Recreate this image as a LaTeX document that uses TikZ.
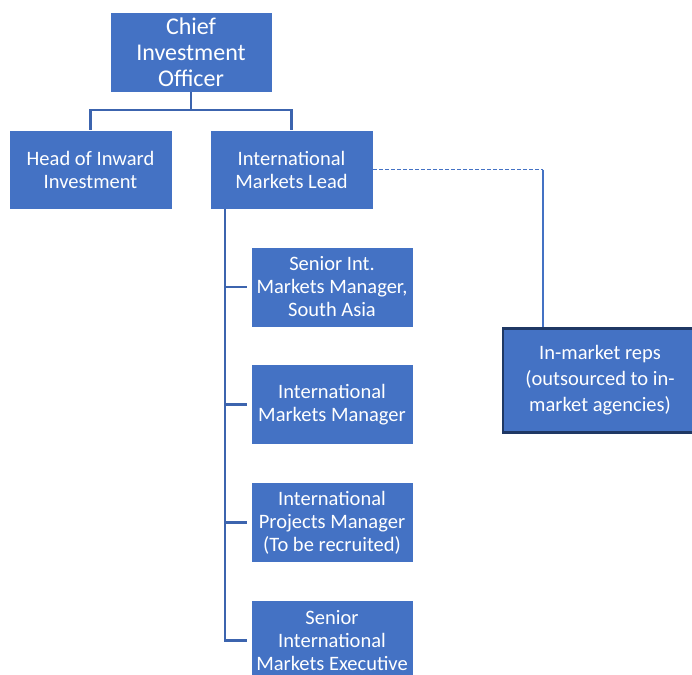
\documentclass[tikz,border=0pt]{standalone}
\usepackage{fontspec}
\setmainfont{Carlito}
\usepackage{tikz}
\usetikzlibrary{calc}
\usepackage{xcolor}
\definecolor{boxblue}{HTML}{4472C4}
\definecolor{linkblue}{HTML}{3C64AE}
\definecolor{navy}{HTML}{1F3864}

\begin{document}
\begin{tikzpicture}[x=1pt,y=-1pt,
    rolebox/.style={fill=boxblue,draw=white,line width=0.6pt,text=white,align=center,
      minimum width=163pt,minimum height=79pt,inner sep=2pt,
      font=\fontsize{20.5}{23}\selectfont},
    link/.style={draw=linkblue,line width=2.6pt},
    dotlink/.style={draw=boxblue,line width=1.1pt,dash pattern=on 4pt off 2pt}]
  \useasboundingbox (0,0) rectangle (692,674);
  % top level
  \node[rolebox,minimum width=162pt,minimum height=80pt,font=\fontsize{24}{26}\selectfont]
    (cio) at (191,52) {Chief\\Investment\\Officer};
  \node[rolebox] (head) at (90.5,169.5) {Head of Inward\\Investment};
  \node[rolebox] (iml) at (291.5,169.5) {International\\Markets Lead};
  % team under the lead
  \node[rolebox,minimum width=162pt,minimum height=80pt] (sen) at (332,287) {Senior Int.\\Markets Manager,\\South Asia};
  \node[rolebox,minimum width=162pt,minimum height=80pt] (imm) at (332,404.5) {International\\Markets Manager};
  \node[rolebox,minimum width=162pt,minimum height=80pt] (ipm) at (332,522.5) {International\\Projects Manager\\(To be recruited)};
  \node[rolebox,minimum width=162pt,minimum height=80pt] (sime) at (332,640.5) {Senior\\International\\Markets Executive};
  % outsourced
  \node[rolebox,draw=navy,line width=2.4pt,minimum width=194pt,minimum height=104pt,
    font=\fontsize{20.5}{26}\selectfont] (reps) at (600,380.5) {In-market reps\\(outsourced to in-\\market agencies)};
  % links
  \coordinate (fork) at (191,110);
  \draw[link] (cio.south) -- (fork) -| (head.north);
  \draw[link] (fork) -| (iml.north);
  \coordinate (trunk) at (225,209);
  \draw[link] (trunk) |- ($(sime.west)+(-4,0)$);
  \foreach \n in {sen,imm,ipm}
    \draw[link] (trunk |- \n.west) -- ($(\n.west)+(-4,0)$);
  \coordinate (bend) at (543,0 |- iml.east);
  \draw[dotlink] (iml.east) -- (bend);
  \draw[draw=boxblue,line width=1.2pt] (bend) -- (reps.north -| bend);
\end{tikzpicture}
\end{document}
